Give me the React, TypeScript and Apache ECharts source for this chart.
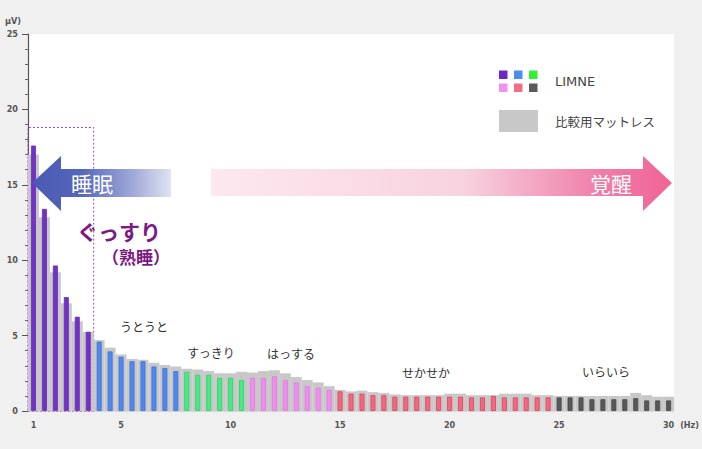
import React, { useEffect, useRef } from 'react';
import * as echarts from 'echarts';

// Frequency categories (Hz)
const frequencies = [
  '1', '1.5', '2', '2.5', '3', '3.5', '4', '4.5', '5', '5.5',
  '6', '6.5', '7', '7.5', '8', '8.5', '9', '9.5', '10', '10.5',
  '11', '11.5', '12', '12.5', '13', '13.5', '14', '14.5', '15', '15.5',
  '16', '16.5', '17', '17.5', '18', '18.5', '19', '19.5', '20', '20.5',
  '21', '21.5', '22', '22.5', '23', '23.5', '24', '24.5', '25', '25.5',
  '26', '26.5', '27', '27.5', '28', '28.5', '29', '29.5', '30',
];

// LIMNE (µV)
const limneValues = [
  17.6, 13.4, 9.65, 7.55, 6.25, 5.25, 4.6, 3.95, 3.6, 3.3,
  3.3, 2.95, 2.85, 2.65, 2.6, 2.4, 2.4, 2.2, 2.2, 2.05,
  2.2, 2.2, 2.3, 2.05, 1.9, 1.65, 1.55, 1.4, 1.3, 1.15,
  1.15, 1.05, 1.05, 0.95, 0.95, 0.95, 0.95, 0.95, 0.95, 0.95,
  0.9, 0.9, 1.0, 0.9, 0.9, 0.9, 0.9, 0.9, 0.9, 0.9,
  0.9, 0.78, 0.78, 0.78, 0.78, 0.85, 0.7, 0.7, 0.7,
];

// 比較用マットレス (µV)
const mattressValues = [
  17.0, 12.85, 9.2, 7.15, 5.95, 5.25, 4.7, 4.2, 3.75, 3.45,
  3.4, 3.2, 3.05, 2.95, 2.8, 2.75, 2.65, 2.5, 2.5, 2.6,
  2.55, 2.65, 2.7, 2.5, 2.25, 2.05, 1.9, 1.65, 1.4, 1.3,
  1.35, 1.25, 1.2, 1.1, 1.05, 1.05, 1.05, 1.05, 1.15, 1.15,
  1.05, 1.05, 1.05, 1.15, 1.15, 1.15, 1.05, 1.05, 1.0, 1.0,
  1.0, 1.0, 1.0, 1.0, 1.0, 1.2, 1.05, 0.95, 0.95,
];

// Frequency bands (start frequency of each band) and colours
const bandStarts = [1, 4, 8, 11, 15, 25];
const bandColors = ['#7232c6', '#5088ee', '#48ea84', '#ee8eee', '#f4687f', '#585858'];
const bandBorders = ['#6a2abc', '#3c72dc', '#30d068', '#e07ae0', '#d8445e', '#484848'];
const legendSwatches = ['#6a28c8', '#4d8df0', '#33ee33', '#f093f0', '#f26d85', '#5a5a5a'];

const xTickLabels = ['1', '5', '10', '15', '20', '25', '30'];
const deepSleepRange = ['1', '3.5'];
const deepSleepTop = 18.8;

const stateLabels = ['うとうと', 'すっきり', 'はっする', 'せかせか', 'いらいら'];
const seriesNames = ['比較用マットレス', 'LIMNE'];

const JP = '"Noto Sans CJK JP", "Noto Sans", sans-serif';
const NARROW = '"Liberation Sans Narrow", "DejaVu Sans Condensed", "Liberation Sans", sans-serif';

function bandOf(freq: string) {
  const f = parseFloat(freq);
  let b = 0;
  for (let i = 0; i < bandStarts.length; i++) if (f >= bandStarts[i]) b = i;
  return b;
}

export default function App() {
  const ref = useRef<HTMLDivElement>(null);

  useEffect(() => {
    if (!ref.current) return;
    const chart = echarts.init(ref.current, undefined, { renderer: 'svg' });

    const limneData = limneValues.map((v, i) => {
      const b = bandOf(frequencies[i]);
      return {
        value: v,
        itemStyle: { color: bandColors[b], borderColor: bandBorders[b], borderWidth: 0.8 },
      };
    });

    const statePos = [
      [144, 326], [211, 352], [291, 353], [426, 372], [606, 371],
    ];

    const graphic: any[] = [
      // 睡眠 arrow
      {
        type: 'polygon',
        shape: { points: [[32, 183], [61, 156], [61, 169], [171, 169], [171, 197], [61, 197], [61, 211]] },
        style: {
          fill: new echarts.graphic.LinearGradient(0, 0, 1, 0, [
            { offset: 0, color: '#4a59b4' },
            { offset: 0.35, color: '#5666ba' },
            { offset: 0.7, color: '#9aa4d6' },
            { offset: 1, color: '#e0e3f2' },
          ]),
        },
        z: 10,
      },
      {
        type: 'text', x: 92, y: 183, z: 11,
        style: { text: '睡眠', fill: '#ffffff', fontSize: 21, fontFamily: JP, align: 'center', verticalAlign: 'middle' },
      },
      // 覚醒 arrow
      {
        type: 'polygon',
        shape: { points: [[211, 169], [643, 169], [643, 156], [672, 183], [643, 211], [643, 196], [211, 196]] },
        style: {
          fill: new echarts.graphic.LinearGradient(0, 0, 1, 0, [
            { offset: 0, color: '#fde8ef' },
            { offset: 0.55, color: '#f8d2df' },
            { offset: 0.85, color: '#f07ca7' },
            { offset: 1, color: '#ef6496' },
          ]),
        },
        z: 10,
      },
      {
        type: 'text', x: 611, y: 183, z: 11,
        style: { text: '覚醒', fill: '#ffffff', fontSize: 21, fontFamily: JP, align: 'center', verticalAlign: 'middle' },
      },
      // ぐっすり（熟睡）
      {
        type: 'text', x: 119, y: 231, z: 11,
        style: { text: 'ぐっすり', fill: '#7a1a82', fontSize: 21, fontWeight: 'bold', fontFamily: JP, align: 'center', verticalAlign: 'middle' },
      },
      {
        type: 'text', x: 136, y: 256, z: 11,
        style: { text: '（熟睡）', fill: '#7a1a82', fontSize: 17, fontWeight: 'bold', fontFamily: JP, align: 'center', verticalAlign: 'middle' },
      },
      // Legend
      ...legendSwatches.map((c, i) => ({
        type: 'rect',
        shape: { x: 499 + (i % 3) * 15, y: 70.5 + Math.floor(i / 3) * 13, width: 8.5, height: 8.5 },
        style: { fill: c },
        z: 11,
      })),
      {
        type: 'text', x: 555, y: 81, z: 11,
        style: { text: seriesNames[1], fill: '#444', fontSize: 13, fontFamily: '"DejaVu Sans", sans-serif', align: 'left', verticalAlign: 'middle' },
      },
      {
        type: 'rect', shape: { x: 499, y: 110, width: 39, height: 22 },
        style: { fill: '#c8c8c8' }, z: 11,
      },
      {
        type: 'text', x: 555, y: 121, z: 11,
        style: { text: seriesNames[0], fill: '#444', fontSize: 12.5, fontFamily: JP, align: 'left', verticalAlign: 'middle' },
      },
      ...stateLabels.map((t, i) => ({
        type: 'text', x: statePos[i][0], y: statePos[i][1], z: 11,
        style: { text: t, fill: '#333', fontSize: 12, fontFamily: JP, align: 'center', verticalAlign: 'middle' },
      })),
    ];

    chart.setOption({
      animation: false,
      backgroundColor: '#f0f0f0',
      grid: {
        left: 28, right: 25, top: 34, bottom: 38,
        show: true, backgroundColor: '#ffffff', borderWidth: 0,
        containLabel: false,
      },
      xAxis: [
        {
          type: 'category',
          data: frequencies,
          boundaryGap: true,
          name: '(Hz)',
          nameLocation: 'end',
          nameGap: -2,
          nameTextStyle: { color: '#555', fontSize: 9, fontWeight: 'bold', fontFamily: NARROW, verticalAlign: 'top', align: 'left', padding: [9, 0, 0, 0] },
          axisLine: { show: true, lineStyle: { color: '#d8d8d8', width: 1 } },
          axisTick: { show: false },
          axisLabel: {
            interval: (idx: number, value: string) => xTickLabels.includes(value),
            color: '#555', fontSize: 9, fontWeight: 'bold', fontFamily: NARROW, margin: 9,
          },
          splitLine: { show: false },
        },
        {
          type: 'category',
          data: frequencies,
          boundaryGap: true,
          show: false,
          position: 'bottom',
        },
      ],
      yAxis: {
        type: 'value',
        min: 0, max: 25, interval: 5,
        name: 'μV)',
        nameLocation: 'end',
        nameGap: 9,
        nameTextStyle: { color: '#555', fontSize: 9, fontWeight: 'bold', fontFamily: NARROW, align: 'right', verticalAlign: 'bottom', padding: [0, 7, 0, 0] },
        axisLine: { show: true, lineStyle: { color: '#555', width: 1.2 } },
        axisTick: { show: true, inside: false, length: 6, lineStyle: { color: '#555' } },
        minorTick: { show: true, splitNumber: 5, length: 3, lineStyle: { color: '#666' } },
        axisLabel: { color: '#555', fontSize: 9, fontWeight: 'bold', fontFamily: NARROW, margin: 10 },
        splitLine: { show: false },
      },
      series: [
        {
          name: seriesNames[0],
          type: 'bar',
          xAxisIndex: 0,
          data: mattressValues,
          barWidth: '100%',
          itemStyle: { color: '#c8c8c8' },
          z: 2,
        },
        {
          name: seriesNames[1],
          type: 'bar',
          xAxisIndex: 1,
          data: limneData,
          barWidth: '45%',
          z: 3,
          markArea: {
            silent: true,
            itemStyle: { color: 'rgba(0,0,0,0)', borderColor: '#9a4aa8', borderWidth: 1, borderType: [2, 2] },
            data: [[
              { xAxis: deepSleepRange[0], yAxis: 0 },
              { xAxis: deepSleepRange[1], yAxis: deepSleepTop },
            ]],
          },
        },
      ],
      graphic,
    });

    return () => chart.dispose();
  }, []);

  return (
    <div
      ref={ref}
      style={{ position: 'fixed', left: 0, top: 0, width: 702, height: 449 }}
    />
  );
}
